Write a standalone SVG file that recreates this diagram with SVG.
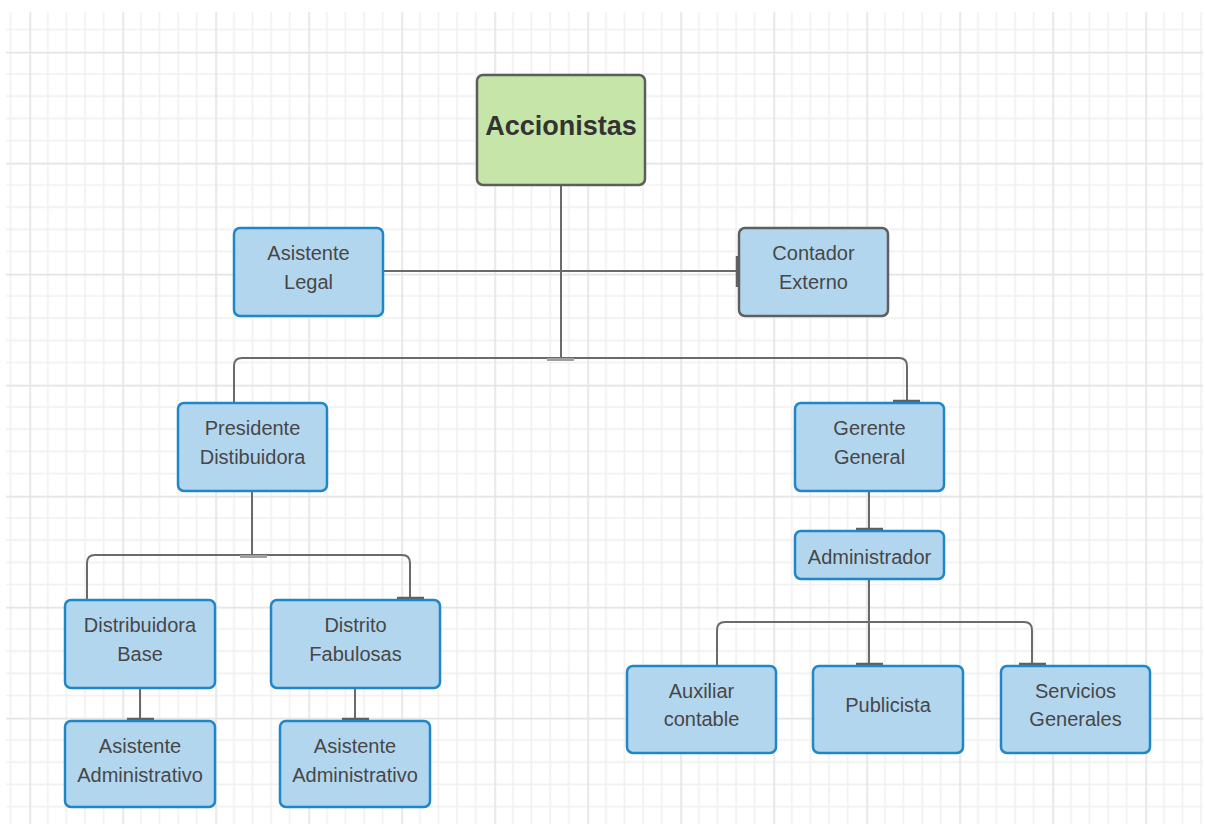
<svg xmlns="http://www.w3.org/2000/svg" width="1205" height="824" viewBox="0 0 1205 824">
<style>
.box{fill:#b3d6ef;stroke:#1f87c6;stroke-width:2.5}
.gray{stroke:#5f5f5f}
.root{fill:#c5e6a8;stroke:#5d5d5d;stroke-width:2.5}
.t{font-family:"Liberation Sans",Arial,sans-serif;font-size:20px;fill:#474747;text-anchor:middle}
.tb{font-family:"Liberation Sans",Arial,sans-serif;font-size:27px;font-weight:bold;fill:#333;text-anchor:middle}
.c{fill:none;stroke:#6a6a6a;stroke-width:2}
.bar{stroke:#606060;stroke-width:3.5}
.barl{stroke:#a0a0a0;stroke-width:3}
</style>
<defs>
<pattern id="grid" patternUnits="userSpaceOnUse" x="29.3" y="51.7" width="93" height="111">
<path d="M18.6 0V111M37.2 0V111M55.8 0V111M74.4 0V111M0 22.2H93M0 44.4H93M0 66.6H93M0 88.8H93" stroke="#f0f0f0" stroke-width="1.6" fill="none"/>
<path d="M0.8 0V111M0 0.8H93" stroke="#e4e4e4" stroke-width="1.8" fill="none"/>
</pattern>
</defs>
<rect width="1205" height="824" fill="#fff"/>
<rect x="6" y="12" width="1197" height="812" fill="url(#grid)"/>

<g id="connectors">
<path class="c" d="M561 185V358"/>
<path class="c" d="M383 271H739"/>
<path class="c" d="M561 358H242Q234 358 234 366V403"/>
<path class="c" d="M561 358H899Q907 358 907 366V403"/>
<path class="c" d="M252 491V555"/>
<path class="c" d="M252 555H95Q87 555 87 563V600"/>
<path class="c" d="M252 555H402Q410 555 410 563V600"/>
<path class="c" d="M140 688V721"/>
<path class="c" d="M355 688V721"/>
<path class="c" d="M869 491V531"/>
<path class="c" d="M869 579V666"/>
<path class="c" d="M869 622H725Q717 622 717 630V666"/>
<path class="c" d="M869 622H1024Q1032 622 1032 630V666"/>
<path class="barl" d="M547 359.5H574M240 556.5H267"/>
<path class="bar" d="M737.5 256V287M893 401.5H920M397 598.5H424M127 719.5H154M342 719.5H369M856 529.5H883M856 664.5H883M1019 664.5H1046"/>
</g>

<g id="accionistas"><rect class="root" x="477" y="75" width="168" height="110" rx="6"/><text class="tb" x="561" y="135">Accionistas</text></g>
<g id="asistente-legal"><rect class="box" x="234" y="228" width="149" height="88" rx="6"/><text class="t" x="308.5" y="260">Asistente</text><text class="t" x="308.5" y="289">Legal</text></g>
<g id="contador-externo"><rect class="box gray" x="739" y="228" width="149" height="88" rx="6"/><text class="t" x="813.5" y="260">Contador</text><text class="t" x="813.5" y="289">Externo</text></g>
<g id="presidente"><rect class="box" x="178" y="403" width="149" height="88" rx="6"/><text class="t" x="252.5" y="435">Presidente</text><text class="t" x="252.5" y="464">Distibuidora</text></g>
<g id="gerente"><rect class="box" x="795" y="403" width="149" height="88" rx="6"/><text class="t" x="869.5" y="435">Gerente</text><text class="t" x="869.5" y="464">General</text></g>
<g id="administrador"><rect class="box" x="795" y="531" width="149" height="48" rx="6"/><text class="t" x="869.5" y="564">Administrador</text></g>
<g id="distribuidora-base"><rect class="box" x="65" y="600" width="150" height="88" rx="6"/><text class="t" x="140" y="632">Distribuidora</text><text class="t" x="140" y="661">Base</text></g>
<g id="distrito-fabulosas"><rect class="box" x="271" y="600" width="169" height="88" rx="6"/><text class="t" x="355.5" y="632">Distrito</text><text class="t" x="355.5" y="661">Fabulosas</text></g>
<g id="asistente-admin-1"><rect class="box" x="65" y="721" width="150" height="86" rx="6"/><text class="t" x="140" y="753">Asistente</text><text class="t" x="140" y="782">Administrativo</text></g>
<g id="asistente-admin-2"><rect class="box" x="280" y="721" width="150" height="86" rx="6"/><text class="t" x="355" y="753">Asistente</text><text class="t" x="355" y="782">Administrativo</text></g>
<g id="auxiliar-contable"><rect class="box" x="627" y="666" width="149" height="87" rx="6"/><text class="t" x="701.5" y="698">Auxiliar</text><text class="t" x="701.5" y="726">contable</text></g>
<g id="publicista"><rect class="box" x="813" y="666" width="150" height="87" rx="6"/><text class="t" x="888" y="712">Publicista</text></g>
<g id="servicios-generales"><rect class="box" x="1001" y="666" width="149" height="87" rx="6"/><text class="t" x="1075.5" y="698">Servicios</text><text class="t" x="1075.5" y="726">Generales</text></g>
</svg>
